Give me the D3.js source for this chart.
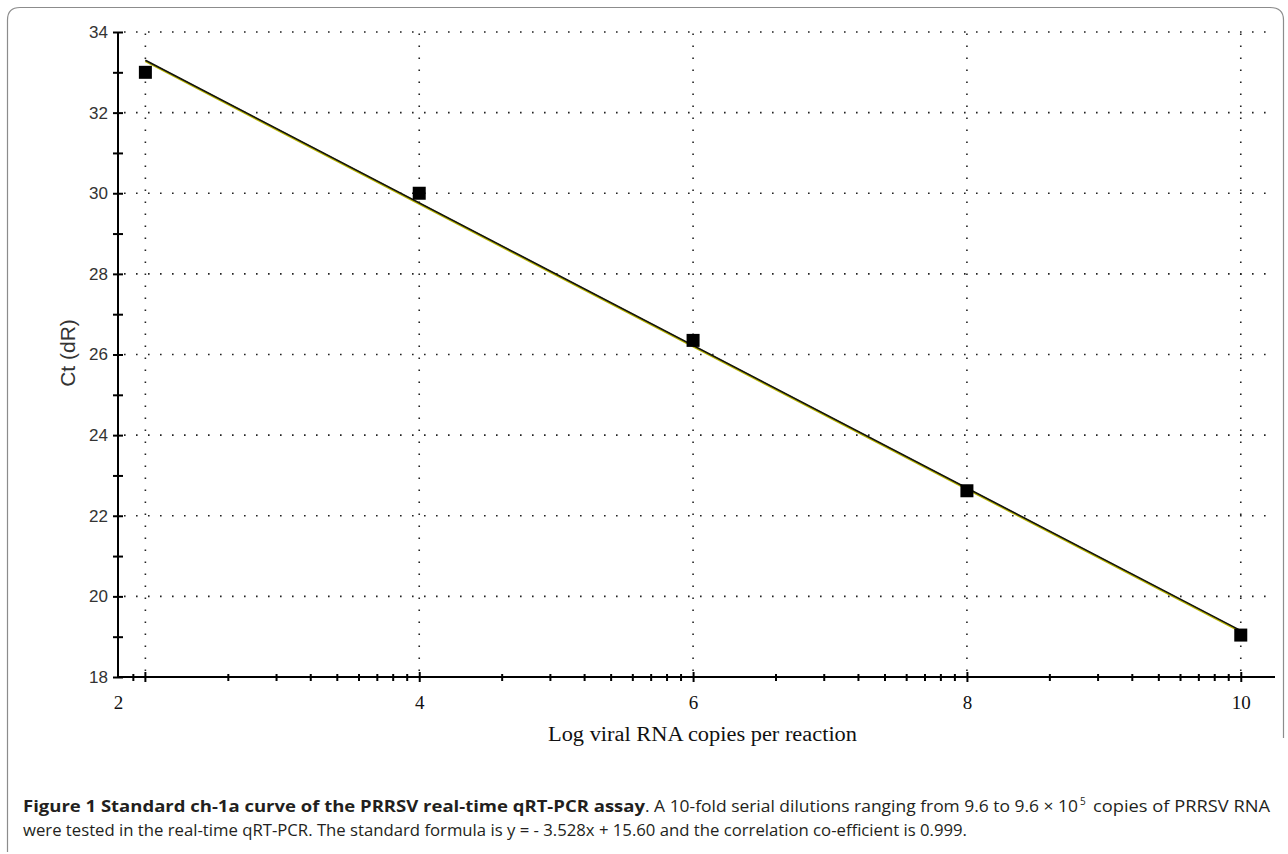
<!DOCTYPE html>
<html>
<head>
<meta charset="utf-8">
<script src="https://cdn.jsdelivr.net/npm/d3@7"></script>
<style>
  html, body { margin: 0; padding: 0; background: #fff; }
  svg { display: block; }
</style>
</head>
<body>
<svg id="chart" width="1288" height="854"></svg>
<script>
// ---- data ----
const logCopies = [2, 4, 6, 8, 10];
const ctValues  = [33.0, 30.0, 26.35, 22.62, 19.04];
const fitX = [2, 10];
const fitY = [33.3, 19.15];
const xTickValues = [1.8, 4, 6, 8, 10];
const yTickValues = [18, 20, 22, 24, 26, 28, 30, 32, 34];
const yMinorValues = [19, 21, 23, 25, 27, 29, 31, 33];
const xGridValues = [2, 4, 6, 8, 10];
const yGridValues = [20, 22, 24, 26, 28, 30, 32, 34];
const xLabel = "Log viral RNA copies per reaction";
const yLabel = "Ct (dR)";
const captionBold = "Figure 1 Standard ch-1a curve of the PRRSV real-time qRT-PCR assay";
const captionA = ". A 10-fold serial dilutions ranging from 9.6 to 9.6 \u00d7 10";
const captionSup = "5";
const captionB = "copies of PRRSV RNA";
const captionLine2 = "were tested in the real-time qRT-PCR. The standard formula is y = - 3.528x + 15.60 and the correlation co-efficient is 0.999.";

const svg = d3.select("#chart");

// figure frame
svg.append("path")
  .attr("d", "M7.5,852 L7.5,20 Q7.5,7.5 20,7.5 L1270,7.5 Q1283.5,7.5 1283.5,20 L1283.5,738")
  .attr("fill", "none").attr("stroke", "#8c8c8c").attr("stroke-width", 1.2);

const x = d3.scaleLinear().domain([1.8, 10.25]).range([118, 1275]);
const y = d3.scaleLinear().domain([18, 34]).range([677, 32]);

// gridlines
const grid = svg.append("g").attr("stroke", "#222").attr("stroke-width", 1.6)
  .attr("stroke-dasharray", "1.6,10.4");
grid.selectAll(".hg").data(yGridValues).join("line")
  .attr("x1", x(1.8) + 6).attr("x2", x(10.25))
  .attr("y1", d => y(d)).attr("y2", d => y(d));
grid.selectAll(".vg").data(xGridValues).join("line")
  .attr("x1", d => x(d)).attr("x2", d => x(d))
  .attr("y1", y(18) - 6).attr("y2", y(34));

// minor x ticks (log-decade style)
const decadeStarts = [0, 2, 4, 6, 8];
const xMinor = [];
decadeStarts.forEach(d0 => {
  for (let k = 2; k <= 9; k++) {
    const v = d0 + 2 * Math.log10(k);
    if (v > 1.85 && v < 10.2) xMinor.push(v);
  }
});

// x axis
const xAxisG = svg.append("g").attr("transform", `translate(0,${y(18)})`);
xAxisG.call(d3.axisBottom(x).tickValues(xMinor).tickSize(4).tickFormat(""))
  .call(g => g.select(".domain").remove())
  .call(g => g.selectAll(".tick line").attr("y1", -3).attr("stroke", "#000").attr("stroke-width", 2));
const xMajorG = svg.append("g").attr("transform", `translate(0,${y(18)})`);
xMajorG.call(d3.axisBottom(x).tickValues(xTickValues).tickSize(5).tickPadding(14)
    .tickFormat(d3.format(".0f")))
  .call(g => g.select(".domain").attr("d", `M${x(1.8)},0H${x(10.25)}`).attr("stroke", "#000").attr("stroke-width", 2))
  .call(g => g.selectAll(".tick line").attr("y1", -5).attr("stroke", "#000").attr("stroke-width", 2))
  .call(g => g.selectAll(".tick").filter(d => d === 1.8).select("line").remove())
  .call(g => g.selectAll(".tick text").attr("font-family", "Liberation Serif, serif")
      .attr("font-size", 19).attr("fill", "#111"));
xMajorG.append("line").attr("x1", x(2)).attr("x2", x(2)).attr("y1", -5).attr("y2", 5)
  .attr("stroke", "#000").attr("stroke-width", 2);

// y axis
const yAxisG = svg.append("g").attr("transform", `translate(${x(1.8)},0)`);
yAxisG.call(d3.axisLeft(y).tickValues(yMinorValues).tickSize(5).tickFormat(""))
  .call(g => g.select(".domain").remove())
  .call(g => g.selectAll(".tick line").attr("x1", 5).attr("stroke", "#000").attr("stroke-width", 2));
const yMajorG = svg.append("g").attr("transform", `translate(${x(1.8)},0)`);
yMajorG.call(d3.axisLeft(y).tickValues(yTickValues).tickSize(5).tickPadding(5).tickFormat(d3.format("d")))
  .call(g => g.select(".domain").attr("d", `M0,${y(34)}V${y(18)}`).attr("stroke", "#000").attr("stroke-width", 2))
  .call(g => g.selectAll(".tick line").attr("x1", 5).attr("stroke", "#000").attr("stroke-width", 2))
  .call(g => g.selectAll(".tick text").attr("font-family", "Liberation Sans, Arial, sans-serif")
      .attr("font-size", 17).attr("fill", "#333"));

// fit line (yellow fringe + black)
const line = d3.line().x(d => x(d[0])).y(d => y(d[1]));
const fitPts = fitX.map((v, i) => [v, fitY[i]]);
svg.append("path").datum(fitPts).attr("d", line)
  .attr("fill", "none").attr("stroke", "#b8b400").attr("stroke-width", 2.4)
  .attr("transform", "translate(0,0.8)");
svg.append("path").datum(fitPts).attr("d", line)
  .attr("fill", "none").attr("stroke", "#111").attr("stroke-width", 1.6);

// markers
const ms = 13;
svg.append("g").selectAll("rect").data(logCopies).join("rect")
  .attr("x", d => x(d) - ms / 2)
  .attr("y", (d, i) => y(ctValues[i]) - ms / 2)
  .attr("width", ms).attr("height", ms).attr("fill", "#000");

// axis labels
svg.append("text").attr("x", 548).attr("y", 741)
  .attr("font-family", "Liberation Serif, serif").attr("font-size", 20).attr("fill", "#111")
  .attr("textLength", 309).attr("lengthAdjust", "spacingAndGlyphs")
  .text(xLabel);
svg.append("text").attr("transform", `translate(75,353) rotate(-90)`).attr("text-anchor", "middle")
  .attr("font-family", "Liberation Sans, Arial, sans-serif").attr("font-size", 21).attr("fill", "#333")
  .text(yLabel);

// caption
const capFont = "Open Sans, sans-serif";
const capCol = "#231f20";
svg.append("text").attr("x", 23).attr("y", 812)
  .attr("font-family", capFont).attr("font-size", 16.5).attr("font-weight", "bold").attr("fill", capCol)
  .attr("textLength", 622).attr("lengthAdjust", "spacingAndGlyphs").text(captionBold);
svg.append("text").attr("x", 645).attr("y", 812)
  .attr("font-family", capFont).attr("font-size", 16.5).attr("fill", capCol)
  .attr("textLength", 433).attr("lengthAdjust", "spacingAndGlyphs").text(captionA);
svg.append("text").attr("x", 1080).attr("y", 805)
  .attr("font-family", capFont).attr("font-size", 10).attr("fill", capCol).text(captionSup);
svg.append("text").attr("x", 1093).attr("y", 812)
  .attr("font-family", capFont).attr("font-size", 16.5).attr("fill", capCol)
  .attr("textLength", 177).attr("lengthAdjust", "spacingAndGlyphs").text(captionB);
svg.append("text").attr("x", 23).attr("y", 836)
  .attr("font-family", capFont).attr("font-size", 16.5).attr("fill", capCol)
  .attr("textLength", 944).attr("lengthAdjust", "spacingAndGlyphs")
  .text(captionLine2);
</script>
</body>
</html>
